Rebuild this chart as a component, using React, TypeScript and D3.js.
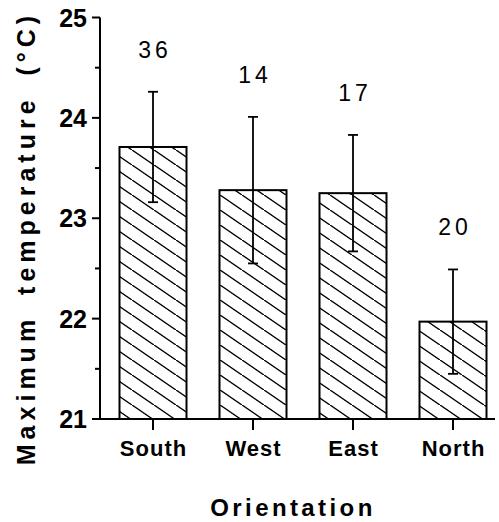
import React from "react";
import * as d3 from "d3";

const categories = ["South", "West", "East", "North"];
const means = [23.71, 23.28, 23.25, 21.97];
const errorsSE = [0.55, 0.73, 0.58, 0.52];
const counts = ["36", "14", "17", "20"];
const yTicks = [21, 22, 23, 24, 25];
const yMinorTicks = [21.5, 22.5, 23.5, 24.5];

const W = 499;
const H = 522;

export default function App() {
  const y = d3.scaleLinear().domain([21, 25]).range([419, 17.5]);
  const x = d3
    .scaleBand<string>()
    .domain(categories)
    .range([103, 503])
    .paddingInner(0.33)
    .paddingOuter(0.165);
  const bw = x.bandwidth();
  const font = "'Liberation Sans', Arial, Helvetica, sans-serif";
  const capW = 10;

  return (
    <svg
      width={W}
      height={H}
      style={{ position: "absolute", left: 0, top: 0, background: "#fff" }}
      fontFamily={font}
    >
      <defs>
        <pattern
          id="hatch"
          patternUnits="userSpaceOnUse"
          width={22}
          height={15}
        >
          <path
            d="M0,0 L22,15 M-11,-7.5 L11,7.5 M11,7.5 L33,22.5"
            stroke="#000"
            strokeWidth={1.4}
          />
        </pattern>
      </defs>

      {/* bars */}
      {categories.map((c, i) => (
        <rect
          key={c}
          x={x(c)}
          y={y(means[i])}
          width={bw}
          height={y(21) - y(means[i])}
          fill="url(#hatch)"
          stroke="#000"
          strokeWidth={2}
        />
      ))}

      {/* error bars */}
      {categories.map((c, i) => {
        const cx = (x(c) as number) + bw / 2;
        const hi = y(means[i] + errorsSE[i]);
        const lo = y(means[i] - errorsSE[i]);
        return (
          <g key={c} stroke="#000" strokeWidth={1.8}>
            <line x1={cx} x2={cx} y1={hi} y2={lo} />
            <line x1={cx - capW / 2} x2={cx + capW / 2} y1={hi} y2={hi} />
            <line x1={cx - capW / 2} x2={cx + capW / 2} y1={lo} y2={lo} />
          </g>
        );
      })}

      {/* counts */}
      {categories.map((c, i) => {
        const cx = (x(c) as number) + bw / 2;
        const hi = y(means[i] + errorsSE[i]);
        return (
          <text
            key={c}
            x={cx + 2}
            y={hi - 34}
            textAnchor="middle"
            fontSize={23}
            letterSpacing={4}
            fill="#000"
          >
            {counts[i]}
          </text>
        );
      })}

      {/* y axis */}
      <line x1={100} x2={100} y1={y(25)} y2={y(21)} stroke="#000" strokeWidth={2} />
      {yTicks.map((t) => (
        <g key={t}>
          <line x1={92} x2={100} y1={y(t)} y2={y(t)} stroke="#000" strokeWidth={2} />
          <text
            x={87}
            y={y(t)}
            dy="0.36em"
            textAnchor="end"
            fontSize={25}
            fontWeight="bold"
            fill="#000"
          >
            {t}
          </text>
        </g>
      ))}
      {yMinorTicks.map((t) => (
        <line key={t} x1={95} x2={100} y1={y(t)} y2={y(t)} stroke="#000" strokeWidth={2} />
      ))}

      {/* x axis */}
      <line x1={92} x2={495} y1={y(21)} y2={y(21)} stroke="#000" strokeWidth={2} />
      {categories.map((c) => {
        const cx = (x(c) as number) + bw / 2;
        return (
          <g key={c}>
            <line x1={cx} x2={cx} y1={y(21)} y2={y(21) + 11} stroke="#000" strokeWidth={2} />
            <text
              x={cx + 0.5}
              y={456}
              textAnchor="middle"
              fontSize={22}
              fontWeight="bold"
              letterSpacing={1}
              fill="#000"
            >
              {c}
            </text>
          </g>
        );
      })}

      {/* axis titles */}
      <text
        x={293}
        y={516}
        textAnchor="middle"
        fontSize={24}
        fontWeight="bold"
        letterSpacing={3.4}
        fill="#000"
      >
        Orientation
      </text>
      <text
        transform={`translate(35,${238}) rotate(-90)`}
        textAnchor="middle"
        fontSize={25}
        fontWeight="bold"
        letterSpacing={5}
        wordSpacing={8}
        fill="#000"
      >
        Maximum temperature (°C)
      </text>
    </svg>
  );
}
